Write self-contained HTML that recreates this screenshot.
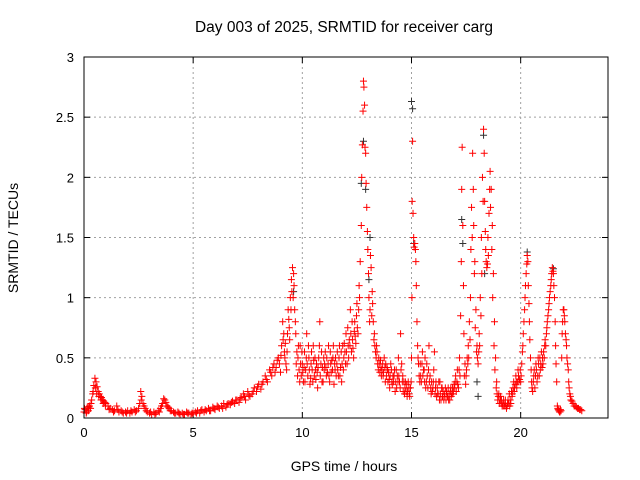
<!DOCTYPE html>
<html><head><meta charset="utf-8"><style>
body{margin:0;background:#fff;}
svg{display:block;font-family:"Liberation Sans",sans-serif;}
</style></head><body>
<svg id="chart" width="640" height="480">
<rect width="640" height="480" fill="#fff"/>
<text x="344" y="32" font-size="15.5" text-anchor="middle">Day 003 of 2025, SRMTID for receiver carg</text>
<text x="344" y="471" font-size="14" text-anchor="middle">GPS time / hours</text>
<text x="18" y="238" font-size="14" text-anchor="middle" transform="rotate(-90 18 238)">SRMTID / TECUs</text>
<g id="grid"></g><g id="ticks"></g><g id="marks"></g>
<rect x="84" y="57" width="524" height="361" fill="none" stroke="#000"/>
</svg>
<script>
const xTicks=[0,5,10,15,20];
const yTicks=[0,0.5,1,1.5,2,2.5,3];
const yTickLabels=["0","0.5","1","1.5","2","2.5","3"];
const blackPts=[[12.7,1.95],[12.8,2.3],[12.9,1.9],[15.0,2.63],[15.05,2.57],[15.1,1.45],[17.3,1.65],[17.35,1.45],[18.3,2.35],[18.35,1.2],[18.0,0.3],[18.05,0.18],[20.3,1.38],[21.5,1.24],[13.1,1.5],[13.05,1.15],[9.6,1.05]];
const redPts=[
[0,.05],[.05,.07],[.1,.04],[.15,.09],[.2,.06],[.25,.1],[.3,.08],[.35,.15],[.4,.2],[.45,.27],[.5,.33],[.55,.3],[.6,.26],[.65,.22],[.7,.2],[.75,.18],[.8,.17],[.85,.15],[.9,.14],[.95,.13],[1,.12],[1.1,.1],[1.2,.08],[1.3,.07],[1.4,.06],[1.5,.1],[1.6,.05],[1.7,.06],[1.8,.04],[1.9,.05],[2,.06],[2.1,.04],[2.2,.05],[2.3,.07],[2.4,.06],[2.5,.08],[2.6,.22],[2.65,.18],[2.7,.12],[2.8,.08],[2.9,.05],[3,.04],[3.1,.03],[3.2,.05],[3.3,.04],[3.4,.06],[3.5,.08],[3.6,.12],[3.7,.15],[3.75,.13],[3.8,.1],[3.9,.08],[4,.06],[4.1,.05],[4.2,.04],[4.3,.05],[4.4,.03],[4.5,.04],[4.6,.03],[4.7,.05],[4.8,.04],[4.9,.03],[5,.04],[5.1,.05],[5.2,.06],[5.3,.04],[5.4,.07],[5.5,.05],[5.6,.06],[5.7,.08],[5.8,.06],[5.9,.09],[6,.07],[6.1,.1],[6.2,.08],[6.3,.1],[6.4,.12],[6.5,.09],[6.6,.12],[6.7,.11],[6.8,.14],[6.9,.12],[7,.15],[7.1,.13],[7.2,.17],[7.3,.2],[7.4,.15],[7.5,.22],[7.6,.18],[7.7,.2],[7.8,.25],[7.9,.22],[8,.28],[8.1,.24],[8.2,.3],[8.3,.35],[8.4,.3],[8.5,.4],[8.6,.35],[8.7,.45],[8.8,.42],[8.9,.5],[9,.38],[9.05,.6],[9.1,.8],[9.15,.7],[9.2,.5],[9.25,.45],[9.3,.55],[9.35,.9],[9.4,.75],[9.45,1.0],[9.5,1.15],[9.55,1.25],[9.6,1.2],[9.62,1.1],[9.65,.9],[9.7,.7],[9.75,.55],[9.8,.5],[9.85,.4],[9.9,.6],[9.95,.35],[10,.45],[10.05,.3],[10.1,.55],[10.15,.4],[10.2,.7],[10.25,.35],[10.3,.5],[10.35,.28],[10.4,.45],[10.5,.6],[10.55,.35],[10.6,.4],[10.7,.25],[10.75,.5],[10.8,.8],[10.85,.45],[10.9,.3],[11,.4],[11.05,.55],[11.1,.35],[11.2,.6],[11.25,.3],[11.3,.45],[11.4,.5],[11.45,.28],[11.5,.4],[11.6,.55],[11.65,.35],[11.7,.6],[11.75,.42],[11.8,.3],[11.9,.5],[12,.7],[12.05,.45],[12.1,.6],[12.2,.9],[12.25,.55],[12.3,.65],[12.35,.5],[12.4,.8],[12.45,.62],[12.5,.95],[12.55,.7],[12.6,1.1],[12.65,1.3],[12.7,1.6],[12.72,2.0],[12.75,2.27],[12.78,2.55],[12.8,2.8],[12.82,2.75],[12.85,2.6],[12.87,2.25],[12.9,2.2],[12.92,1.95],[12.95,1.75],[12.98,1.55],[13,1.4],[13.03,1.2],[13.05,1.0],[13.1,.9],[13.12,1.35],[13.15,1.25],[13.2,1.05],[13.25,.8],[13.3,.7],[13.35,.55],[13.4,.6],[13.45,.45],[13.5,.5],[13.55,.38],[13.6,.42],[13.7,.35],[13.75,.5],[13.8,.3],[13.9,.4],[14,.25],[14.05,.45],[14.1,.3],[14.2,.35],[14.25,.22],[14.3,.4],[14.4,.5],[14.45,.3],[14.5,.7],[14.55,.45],[14.6,.35],[14.7,.25],[14.8,.18],[14.85,.3],[14.9,.2],[14.95,.25],[15,.5],[15.02,1.0],[15.03,1.8],[15.05,2.3],[15.07,1.7],[15.1,1.5],[15.15,1.45],[15.2,1.3],[15.25,.8],[15.3,.5],[15.35,.35],[15.4,.45],[15.45,.3],[15.5,.55],[15.55,.4],[15.6,.3],[15.65,.25],[15.7,.45],[15.8,.6],[15.85,.35],[15.9,.2],[16,.3],[16.05,.55],[16.1,.25],[16.2,.2],[16.3,.3],[16.35,.15],[16.4,.25],[16.5,.18],[16.6,.22],[16.7,.15],[16.8,.25],[16.9,.2],[17,.3],[17.1,.4],[17.15,.25],[17.2,.5],[17.25,.85],[17.28,1.3],[17.3,1.9],[17.32,2.25],[17.35,1.6],[17.38,1.1],[17.4,.7],[17.45,.45],[17.5,.35],[17.55,.5],[17.6,.6],[17.65,.8],[17.7,1.0],[17.72,1.4],[17.75,1.75],[17.8,2.2],[17.83,1.9],[17.85,1.6],[17.9,1.3],[17.95,.9],[18,.6],[18.05,.45],[18.1,.7],[18.15,1.0],[18.2,1.5],[18.25,2.0],[18.3,2.4],[18.33,2.2],[18.35,1.8],[18.4,1.4],[18.45,1.25],[18.5,1.5],[18.55,1.7],[18.6,2.05],[18.65,1.9],[18.7,1.6],[18.75,1.2],[18.8,.8],[18.85,.5],[18.9,.3],[19,.2],[19.05,.15],[19.1,.12],[19.2,.1],[19.3,.15],[19.4,.12],[19.5,.1],[19.6,.18],[19.7,.22],[19.8,.3],[19.9,.35],[20,.3],[20.05,.45],[20.1,.6],[20.15,.8],[20.2,1.0],[20.25,1.2],[20.3,1.35],[20.33,1.3],[20.35,1.1],[20.4,.8],[20.45,.5],[20.5,.3],[20.55,.22],[20.6,.35],[20.7,.45],[20.75,.3],[20.8,.5],[20.9,.4],[21,.5],[21.1,.6],[21.2,.75],[21.3,.95],[21.4,1.15],[21.45,1.25],[21.5,1.2],[21.55,1.0],[21.6,.6],[21.65,.3],[21.7,.08],[21.75,.06],[21.8,.05],[21.85,.06],[21.9,.7],[21.95,.9],[22,.85],[22.05,.7],[22.1,.6],[22.15,.45],[22.2,.3],[22.25,.2],[22.3,.15],[22.4,.12],[22.5,.1],[22.6,.08],[22.7,.07],[22.8,.06]
];
const redPts2=[
[.02,.08],[.12,.05],[.22,.09],[.32,.12],[.42,.22],[.52,.25],[.58,.2],[.68,.18],[.78,.15],[.88,.12],[.98,.1],[1.15,.07],[1.35,.05],[1.55,.07],[1.75,.05],[1.95,.04],[2.15,.06],[2.35,.05],[2.55,.12],[2.62,.15],[2.75,.1],[2.85,.06],[3.05,.05],[3.25,.03],[3.45,.05],[3.55,.1],[3.65,.16],[3.85,.09],[3.95,.06],[4.15,.04],[4.35,.04],[4.55,.03],[4.75,.04],[4.95,.04],[5.15,.04],[5.35,.06],[5.55,.07],[5.75,.06],[5.95,.08],[6.15,.09],[6.35,.08],[6.55,.11],[6.75,.13],[6.95,.15],[7.15,.16],[7.35,.18],[7.55,.19],[7.75,.22],[7.95,.26],[8.15,.28],[8.35,.32],[8.55,.38],[8.65,.42],[8.75,.38],[8.85,.48],[8.95,.45],[9.02,.52],[9.12,.65],[9.18,.55],[9.22,.62],[9.28,.4],[9.32,.7],[9.38,.82],[9.42,.65],[9.48,.9],[9.52,1.05],[9.58,1.0],[9.68,.8],[9.72,.45],[9.78,.35],[9.82,.6],[9.88,.3],[9.92,.45],[9.98,.55],[10.02,.38],[10.08,.42],[10.12,.3],[10.18,.5],[10.22,.45],[10.28,.6],[10.32,.4],[10.38,.33],[10.42,.55],[10.45,.4],[10.48,.3],[10.52,.48],[10.58,.5],[10.62,.32],[10.65,.45],[10.68,.38],[10.72,.42],[10.78,.6],[10.82,.35],[10.88,.55],[10.92,.42],[10.95,.3],[10.98,.5],[11.02,.45],[11.08,.42],[11.12,.5],[11.15,.38],[11.18,.45],[11.22,.35],[11.28,.55],[11.32,.38],[11.35,.48],[11.38,.4],[11.42,.6],[11.48,.45],[11.52,.5],[11.55,.35],[11.58,.45],[11.62,.4],[11.68,.5],[11.72,.35],[11.78,.55],[11.82,.45],[11.85,.6],[11.88,.4],[11.92,.62],[11.95,.55],[11.98,.45],[12.02,.55],[12.08,.75],[12.12,.5],[12.15,.65],[12.18,.6],[12.22,.7],[12.28,.8],[12.32,.58],[12.38,.72],[12.42,.68],[12.48,.85],[12.52,.75],[12.58,.9],[12.62,1.0],[13.08,.8],[13.18,.85],[13.22,.95],[13.28,.65],[13.32,.6],[13.38,.5],[13.42,.55],[13.48,.4],[13.52,.45],[13.58,.48],[13.62,.35],[13.65,.4],[13.68,.45],[13.72,.38],[13.78,.42],[13.82,.45],[13.85,.35],[13.88,.42],[13.92,.3],[13.95,.38],[13.98,.32],[14.02,.35],[14.08,.4],[14.12,.28],[14.15,.35],[14.18,.3],[14.22,.4],[14.28,.3],[14.32,.25],[14.35,.35],[14.38,.3],[14.42,.35],[14.48,.25],[14.52,.4],[14.58,.3],[14.62,.22],[14.65,.3],[14.68,.2],[14.72,.3],[14.75,.22],[14.78,.28],[14.82,.22],[14.88,.25],[14.92,.18],[14.98,.3],[15.12,1.42],[15.18,1.4],[15.22,1.1],[15.28,.6],[15.32,.45],[15.38,.3],[15.42,.35],[15.48,.45],[15.52,.35],[15.58,.4],[15.62,.5],[15.68,.3],[15.72,.35],[15.75,.25],[15.78,.4],[15.82,.3],[15.88,.25],[15.92,.3],[15.95,.22],[15.98,.25],[16.02,.4],[16.08,.2],[16.12,.3],[16.15,.18],[16.18,.25],[16.22,.2],[16.25,.3],[16.28,.15],[16.32,.2],[16.38,.25],[16.42,.18],[16.45,.22],[16.48,.15],[16.52,.2],[16.55,.25],[16.58,.15],[16.62,.2],[16.65,.18],[16.68,.25],[16.72,.2],[16.75,.15],[16.78,.22],[16.82,.18],[16.85,.2],[16.88,.25],[16.92,.22],[16.95,.28],[16.98,.25],[17.02,.35],[17.05,.22],[17.08,.3],[17.12,.28],[17.18,.4],[17.22,.35],[17.42,.35],[17.48,.28],[17.52,.4],[17.58,.45],[17.62,.5],[17.68,.65],[17.78,1.5],[17.88,1.2],[17.92,.75],[17.98,.55],[18.02,.5],[18.08,.55],[18.12,.6],[18.18,.85],[18.22,1.2],[18.28,1.8],[18.38,1.55],[18.42,1.3],[18.48,1.28],[18.52,1.35],[18.58,1.9],[18.62,1.75],[18.68,1.4],[18.72,1.0],[18.78,.6],[18.82,.4],[18.88,.25],[18.92,.2],[18.95,.15],[18.98,.18],[19.02,.12],[19.08,.18],[19.12,.15],[19.15,.1],[19.18,.12],[19.22,.15],[19.25,.1],[19.28,.12],[19.32,.1],[19.35,.08],[19.38,.1],[19.42,.15],[19.45,.12],[19.48,.2],[19.52,.15],[19.55,.12],[19.58,.22],[19.62,.2],[19.65,.25],[19.68,.3],[19.72,.25],[19.75,.28],[19.78,.35],[19.82,.25],[19.85,.3],[19.88,.4],[19.92,.3],[19.95,.32],[19.98,.4],[20.02,.35],[20.08,.55],[20.12,.7],[20.18,.9],[20.22,1.1],[20.28,1.28],[20.38,.95],[20.42,.65],[20.48,.4],[20.52,.25],[20.58,.3],[20.62,.4],[20.65,.25],[20.68,.35],[20.72,.4],[20.78,.35],[20.82,.45],[20.85,.35],[20.88,.5],[20.92,.45],[20.95,.55],[20.98,.42],[21.02,.45],[21.05,.55],[21.08,.5],[21.12,.65],[21.15,.6],[21.18,.7],[21.22,.8],[21.25,.85],[21.28,.9],[21.32,1.0],[21.35,1.05],[21.38,1.1],[21.42,1.2],[21.48,1.22],[21.52,1.1],[21.58,.8],[21.62,.45],[21.68,.1],[21.72,.07],[21.78,.05],[21.82,.07],[21.88,.5],[21.92,.8],[21.98,.9],[22.02,.8],[22.08,.65],[22.12,.5],[22.18,.4],[22.22,.25],[22.28,.18],[22.35,.14],[22.45,.1],[22.55,.09],[22.65,.08],[22.75,.07]
];
const X0=84,X1=608,Y0=418,Y1=57;
const xs=t=>X0+t*(X1-X0)/24;
const ys=v=>Y0-v*(Y0-Y1)/3;
const NS="http://www.w3.org/2000/svg";
const grid=document.getElementById('grid'),ticks=document.getElementById('ticks'),marks=document.getElementById('marks');
function mk(tag,attrs,parent){const e=document.createElementNS(NS,tag);for(const k in attrs)e.setAttribute(k,attrs[k]);parent.appendChild(e);return e;}
xTicks.forEach(t=>{
  const x=xs(t);
  if(t>0){const g=mk('line',{x1:x,x2:x,y1:Y1,y2:Y0,stroke:'#a0a0a0','stroke-dasharray':'2,3'},grid);
  
  }
  mk('line',{x1:x,x2:x,y1:Y0,y2:Y0-6,stroke:'#000'},ticks);
  mk('line',{x1:x,x2:x,y1:Y1,y2:Y1+6,stroke:'#000'},ticks);
  const l=mk('text',{x:x,y:Y0+19,'font-size':13,'text-anchor':'middle'},ticks);
  l.textContent=String(t);
  
  
});
yTicks.forEach((v,i)=>{
  const y=ys(v);
  if(v>0&&v<3){const g=mk('line',{x1:X0,x2:X1,y1:y,y2:y,stroke:'#a0a0a0','stroke-dasharray':'2,3'},grid);
  
  }
  mk('line',{x1:X0,x2:X0+6,y1:y,y2:y,stroke:'#000'},ticks);
  mk('line',{x1:X1,x2:X1-6,y1:y,y2:y,stroke:'#000'},ticks);
  const l=mk('text',{x:X0-10,y:y+5,'font-size':13,'text-anchor':'end'},ticks);
  l.textContent=yTickLabels[i];
  
  
});
function plus(p,color,name){
  const x=xs(p[0]),y=ys(p[1]);
  const e=mk('path',{d:`M${x-3.5},${y}h7M${x},${y-3.5}v7`,stroke:color,'stroke-width':1,fill:'none'},marks);
  
  
}
blackPts.forEach(p=>plus(p,'#333','srmtid-point-black'));
redPts.forEach(p=>plus(p,'#f00','srmtid-point'));
redPts2.forEach(p=>plus(p,'#f00','srmtid-point'));
</script>
</body></html>
